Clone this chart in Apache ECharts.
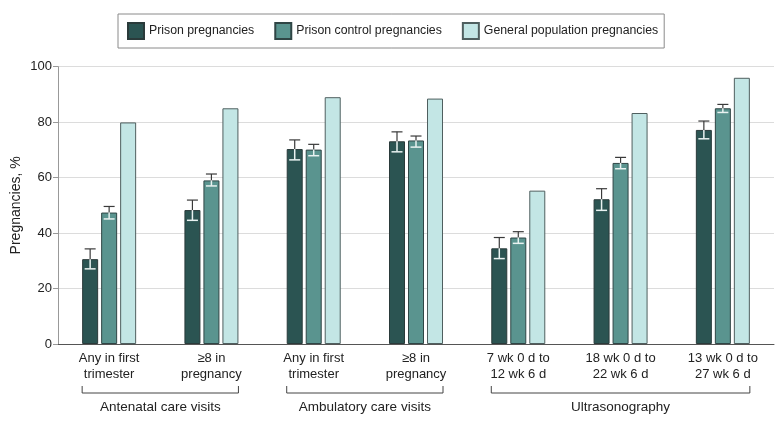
<!DOCTYPE html>
<html>
<head>
<meta charset="utf-8">
<script src="https://cdn.jsdelivr.net/npm/echarts@6/dist/echarts.min.js"></script>
<style>
html,body{margin:0;padding:0;background:#fff;}
#chart{width:780px;height:425px;}
</style>
</head>
<body>
<div id="chart"></div>
<script>
const categories = ['Any in first\ntrimester', '≥8 in\npregnancy', 'Any in first\ntrimester', '≥8 in\npregnancy', '7 wk 0 d to\n12 wk 6 d', '18 wk 0 d to\n22 wk 6 d', '13 wk 0 d to\n27 wk 6 d'];
const seriesNames = ['Prison pregnancies', 'Prison control pregnancies', 'General population pregnancies'];
const prison = [30.6, 48.3, 70.3, 73.1, 34.5, 52.2, 77.2];
const prisonLow = [27.1, 44.6, 66.4, 69.3, 30.8, 48.2, 74.0];
const prisonHigh = [34.3, 51.9, 73.6, 76.5, 38.4, 56.0, 80.4];
const control = [47.4, 59.0, 70.1, 73.4, 38.4, 65.3, 85.0];
const controlLow = [45.1, 57.0, 67.9, 71.0, 36.3, 63.2, 83.5];
const controlHigh = [49.6, 61.3, 72.0, 75.0, 40.5, 67.3, 86.4];
const general = [79.9, 85.0, 89.0, 88.5, 55.3, 83.3, 96.0];
const groupLabels = ['Antenatal care visits', 'Ambulatory care visits', 'Ultrasonography'];
const groupStart = [0, 2, 4];
const groupEnd = [1, 3, 6];
const yTicks = [0, 20, 40, 60, 80, 100];

const FONT = 'Liberation Sans';
const BW = 16, GAP = 3;
const colors = ['#2b5452', '#5a948f', '#c3e6e5'];

function errRender(offset) {
  return function (params, api) {
    const i = api.value(0);
    const x = api.coord([i, 0])[0] + offset;
    const yv = api.coord([i, api.value(1)])[1];
    const yl = api.coord([i, api.value(2)])[1];
    const yh = api.coord([i, api.value(3)])[1];
    const hw = 5.5;
    const dark = {stroke: '#3a3a3a', lineWidth: 1.2};
    const light = {stroke: '#e9f2f1', lineWidth: 1.5};
    return {
      type: 'group',
      children: [
        {type: 'line', shape: {x1: x, y1: yv, x2: x, y2: yh}, style: dark},
        {type: 'line', shape: {x1: x - hw, y1: yh, x2: x + hw, y2: yh}, style: dark},
        {type: 'line', shape: {x1: x, y1: yv, x2: x, y2: yl}, style: light},
        {type: 'line', shape: {x1: x - hw, y1: yl, x2: x + hw, y2: yl}, style: light}
      ]
    };
  };
}

const chart = echarts.init(document.getElementById('chart'), null, {renderer: 'canvas'});
const barCommon = {
  type: 'bar', barWidth: BW, barGap: (GAP / BW * 100) + '%',
};
const option = {
  animation: false,
  backgroundColor: '#fff',
  textStyle: {fontFamily: FONT},
  legend: {
    data: seriesNames,
    left: 118, top: 14,
    padding: [8, 6, 8, 9],
    borderColor: '#8a8a8a', borderWidth: 1,
    itemWidth: 16, itemHeight: 16, itemGap: 20,
    icon: 'rect',
    textStyle: {fontFamily: FONT, fontSize: 12.3, color: '#222'}
  },
  grid: {left: 58, right: 6, top: 66.7, bottom: 81, containLabel: false, outerBoundsMode: 'none'},
  xAxis: {
    type: 'category',
    data: categories,
    axisLine: {lineStyle: {color: '#555', width: 1}},
    axisTick: {show: false},
    axisLabel: {fontFamily: FONT, fontSize: 13, color: '#222', lineHeight: 15.5, margin: 7, interval: 0}
  },
  yAxis: {
    type: 'value', min: 0, max: 100, interval: 20,
    name: 'Pregnancies, %', nameLocation: 'middle', nameGap: 34.5, nameMoveOverlap: false,
    nameTextStyle: {fontFamily: FONT, fontSize: 14, color: '#222'},
    axisLine: {show: true, lineStyle: {color: '#999'}},
    axisTick: {show: true, length: 5, lineStyle: {color: '#999'}},
    axisLabel: {fontFamily: FONT, fontSize: 13, color: '#222', margin: 6},
    splitLine: {lineStyle: {color: '#dcdcdc'}}
  },
  series: [
    Object.assign({}, barCommon, {name: seriesNames[0], data: prison, itemStyle: {color: colors[0], borderColor: '#2a3a3a', borderWidth: 1}}),
    Object.assign({}, barCommon, {name: seriesNames[1], data: control, itemStyle: {color: colors[1], borderColor: '#2f4545', borderWidth: 1}}),
    Object.assign({}, barCommon, {name: seriesNames[2], data: general, itemStyle: {color: colors[2], borderColor: '#4f5f5f', borderWidth: 1}}),
    {
      type: 'custom', name: 'prisonErr', z: 10,
      renderItem: errRender(-(BW + GAP)),
      data: prison.map((v, i) => [i, v, prisonLow[i], prisonHigh[i]]),
      encode: {x: 0, y: [1, 2, 3]}, silent: true
    },
    {
      type: 'custom', name: 'controlErr', z: 10,
      renderItem: errRender(0),
      data: control.map((v, i) => [i, v, controlLow[i], controlHigh[i]]),
      encode: {x: 0, y: [1, 2, 3]}, silent: true
    }
  ]
};
chart.setOption(option);

function drawBrackets() {
  const half = BW * 1.5 + GAP;
  const yBase = chart.convertToPixel({yAxisIndex: 0}, 0);
  const yLine = yBase + 49;
  const elements = [];
  groupLabels.forEach((label, g) => {
    const x1 = chart.convertToPixel({xAxisIndex: 0}, groupStart[g]) - half;
    const x2 = chart.convertToPixel({xAxisIndex: 0}, groupEnd[g]) + half;
    elements.push({
      type: 'polyline',
      shape: {points: [[x1, yLine - 7], [x1, yLine], [x2, yLine], [x2, yLine - 7]]},
      style: {stroke: '#444', lineWidth: 1, fill: null}
    });
    elements.push({
      type: 'text',
      x: (x1 + x2) / 2, y: yLine + 14,
      style: {text: label, fontFamily: FONT, fontSize: 13.5, fill: '#222', align: 'center', verticalAlign: 'middle'}
    });
  });
  chart.setOption({graphic: elements});
}
drawBrackets();
</script>
</body>
</html>
